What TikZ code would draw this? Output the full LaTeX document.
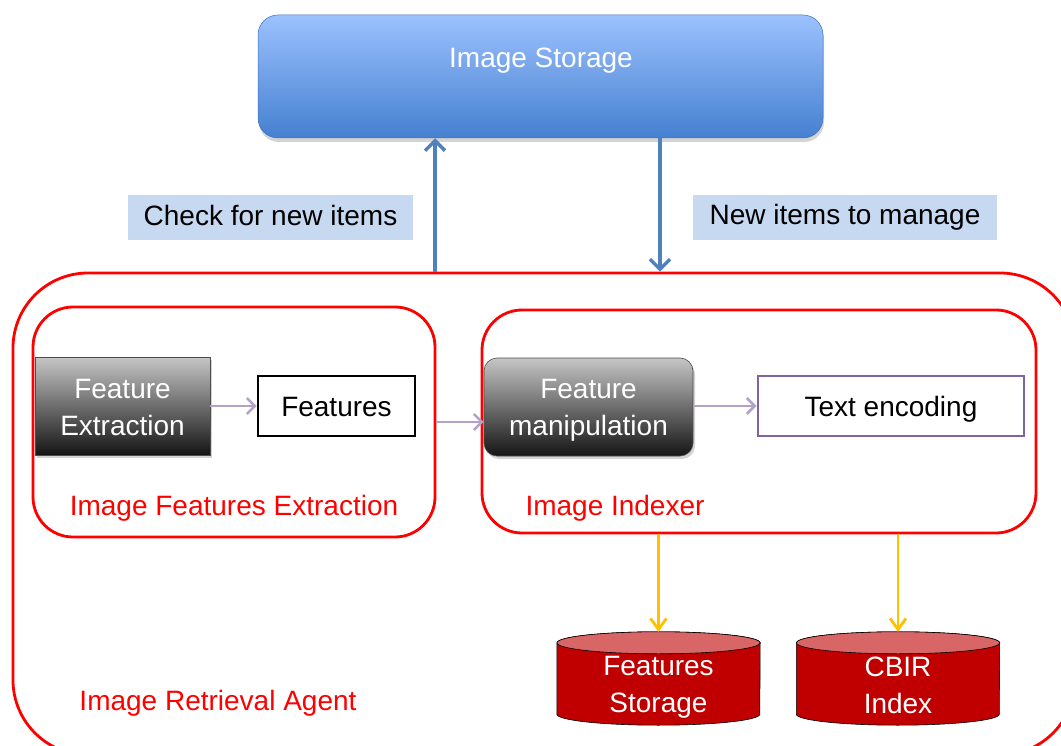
\documentclass[tikz,border=0pt]{standalone}
\usepackage{fontspec}
\setmainfont{Liberation Sans}
\usetikzlibrary{arrows.meta,shadows,calc}

\definecolor{storetop}{HTML}{9CC1FE}
\definecolor{storemid}{HTML}{86ADEE}
\definecolor{storebot}{HTML}{4580D0}
\definecolor{flowblue}{HTML}{4F81BD}
\definecolor{notefill}{HTML}{C6D9F1}
\definecolor{lilac}{HTML}{B3A2C7}
\definecolor{purpleedge}{HTML}{8064A2}
\definecolor{gold}{HTML}{FFC000}
\definecolor{dbbody}{HTML}{C00000}
\definecolor{dbtop}{HTML}{D96666}
\definecolor{agentred}{HTML}{FF0000}

\tikzset{
  txt/.style={font=\fontsize{28}{37}\selectfont, align=center, inner sep=0pt},
  box/.style={inner sep=0pt, anchor=center},
  redframe/.style={box, draw=agentred, line width=2.8pt, rounded corners=#1},
  grayblock/.style={box, top color=gray!45, middle color=gray!55!black, bottom color=black!92,
    draw=black!70, line width=0.6pt,
    drop shadow={opacity=0.35, shadow xshift=2pt, shadow yshift=-3pt}},
  note/.style={box, fill=notefill},
  flow/.style={draw=flowblue, line width=3.6pt, -{Straight Barb[length=10pt,width=20pt,line width=3.4pt]}},
  inner/.style={draw=lilac, line width=2.6pt, -{Straight Barb[length=8pt,width=16pt,line width=2.6pt]}},
  store/.style={draw=gold, line width=2.8pt, -{Straight Barb[length=11pt,width=16pt,line width=2.8pt]}},
  redlabel/.style={txt, text=agentred},
}

\begin{document}
\begin{tikzpicture}[x=1pt,y=-1pt]
\useasboundingbox (0,0) rectangle (1061,746);

% storage on top
\node[box, minimum width=565pt, minimum height=123pt, rounded corners=20pt,
      top color=storetop, middle color=storemid, bottom color=storebot,
      draw=storebot!90!black, line width=0.5pt,
      drop shadow={opacity=0.35, shadow xshift=1pt, shadow yshift=-4pt}]
      (store) at (540.5,76.5) {};
\node[txt, text=white] (storetxt) at (541,61) {Image Storage};

% the agent and its two modules
\node[redframe=75pt, minimum width=1062pt, minimum height=482pt] (agent) at (544,514) {};
\node[redframe=40pt, minimum width=402pt, minimum height=230pt] (ife) at (234,422) {};
\node[redframe=40pt, minimum width=554pt, minimum height=223pt] (idx) at (759,421.5) {};

% notes on the exchange with storage
\node[note, minimum width=285pt, minimum height=45pt] (checkbg) at (270.5,217.5) {};
\node[txt] (check) at (270.5,215.5) {Check for new items};
\node[note, minimum width=304pt, minimum height=45pt] (newbg) at (845,217.5) {};
\node[txt] (newitems) at (845,217) {New items to manage};

% exchange arrows
\coordinate (upx) at (435,0);
\coordinate (downx) at (660,0);
\draw[flow] (agent.north -| upx) -- (store.south -| upx);
\draw[flow] (store.south -| downx) -- (agent.north -| downx);

% feature extraction module
\node[grayblock, minimum width=175pt, minimum height=98pt] (fe) at (122.5,406) {};
\node[txt, text=white] (fetxt) at (122.5,407.5) {Feature\\Extraction};
\node[box, draw=black, line width=2.6pt, minimum width=157pt, minimum height=60pt] (feat) at (336.5,406) {};
\node[txt] (feattxt) at (336.5,407) {Features};
\draw[inner] (fe.east) -- (feat.west);
\node[redlabel] (ifelbl) at (234,508) {Image Features Extraction};

% indexer module
\node[grayblock, rounded corners=13pt, minimum width=209pt, minimum height=98pt] (fm) at (588.5,407) {};
\node[txt, text=white] (fmtxt) at (588.5,410) {Feature\\manipulation};
\node[box, draw=purpleedge, line width=2.8pt, minimum width=266pt, minimum height=60pt] (enc) at (891,406) {};
\node[txt] (enctxt) at (891,409) {Text encoding};
\draw[inner] ([yshift=1pt]fm.east) -- (enc.west);
\coordinate (midlink) at ([yshift=-15pt]fm.west);
\draw[inner] (ife.east |- midlink) -- (midlink);
\node[redlabel] (idxlbl) at (615,508) {Image Indexer};

\node[redlabel] (agentlbl) at (218,703) {Image Retrieval Agent};

% database cylinders
\foreach \cx/\nm/\dy/\lines in {658.5/fs/9/{Features\\Storage}, 898/cbir/6.5/{CBIR\\Index}} {
  \node[box, minimum width=203pt, minimum height=93pt] (\nm) at (\cx,678.5) {};
  \fill[dbbody, draw=black, line width=0.6pt]
    (\nm.north west) ++(0,11) -- ($(\nm.south west)+(0,-11)$)
    arc[start angle=180, end angle=360, x radius=101.5pt, y radius=11pt]
    -- ($(\nm.north east)+(0,11)$)
    arc[start angle=0, end angle=180, x radius=101.5pt, y radius=11pt] -- cycle;
  \draw[fill=dbtop, line width=0.6pt] ($(\nm.north)+(0,11)$) ellipse[x radius=101.5pt, y radius=11pt];
  \node[txt, text=white] (\nm txt) at ($(\nm.center)+(0,\dy)$) {\lines};
}

% writes into the stores
\draw[store] (idx.south -| fs.north) -- (fs.north);
\draw[store] (idx.south -| cbir.north) -- (cbir.north);
\end{tikzpicture}
\end{document}
